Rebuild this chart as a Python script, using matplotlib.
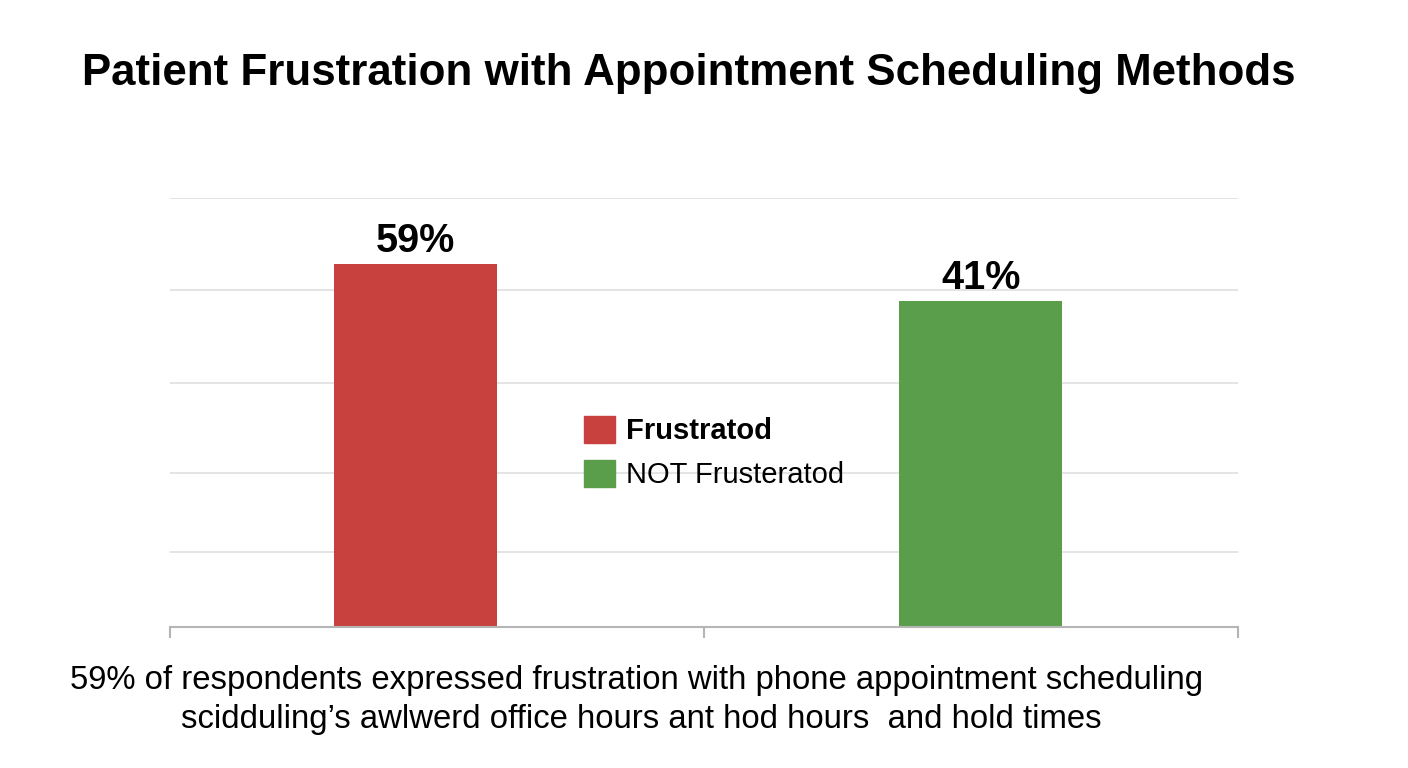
import matplotlib.pyplot as plt
import matplotlib.patches as patches
import numpy as np

# data
categories = ['Frustratod', 'NOT Frusteratod']
values = [59, 41]
colors = ['#C8413E', '#5A9E4B']

title = 'Patient Frustration with Appointment Scheduling Methods'
caption = ['59% of respondents expressed frustration with phone appointment scheduling',
           'scidduling\u2019s awlwerd office hours ant hod hours  and hold times']

plt.rcParams['font.family'] = ['Liberation Sans', 'DejaVu Sans']

fig = plt.figure(figsize=(14.08, 7.68), dpi=100)
ax = fig.add_axes([0.1207, 0.1836, 0.7585, 0.5586])

# y scale chosen so the bars sit where the reference puts them
y_lo, y_hi = -117.5, 91.1
x = np.arange(len(values))
ax.bar(x, np.array(values) - y_lo, bottom=y_lo, width=0.2885,
       color=colors, zorder=3)

for xi, v in zip(x, values):
    ax.annotate(f'{v}%', (xi, v), xytext=(0, 9), textcoords='offset points',
                ha='center', va='baseline', fontsize=28.5, fontweight='bold')

# gridlines
for f in [0.175, 0.359, 0.569, 0.786, 1.0]:
    ax.axhline(y_lo + f * (y_hi - y_lo), color='#e2e2e2', lw=1.3, zorder=1)

ax.set_ylim(y_lo, y_hi)
ax.set_xlim(-0.4345, 1.4549)
ax.set_xticks([-0.4345, 0.5097, 1.4549])
ax.set_xticklabels([])
ax.set_yticks([])
for s in ['top', 'right', 'left']:
    ax.spines[s].set_visible(False)
ax.spines['bottom'].set_color('#b5b5b5')
ax.spines['bottom'].set_linewidth(1.5)
ax.spines['bottom'].set_zorder(4)
ax.tick_params(axis='x', length=8, width=1.5, color='#b5b5b5', direction='out')

handles = [patches.Patch(color=c, label=l) for c, l in zip(colors, categories)]
leg = fig.legend(handles=handles, loc='center left', bbox_to_anchor=(0.4148, 0.411),
                 frameon=False, fontsize=21, handlelength=1.05, handleheight=1.05,
                 handletextpad=0.38, labelspacing=0.5, borderpad=0, borderaxespad=0)
leg.get_texts()[0].set_fontweight('bold')

fig.text(0.489, 1 - 85 / 768, title, ha='center', va='baseline',
         fontsize=31.6, fontweight='bold')
fig.text(0.4524, 1 - 689 / 768, caption[0], ha='center', va='baseline', fontsize=23.7)
fig.text(0.4553, 1 - 728 / 768, caption[1], ha='center', va='baseline', fontsize=23.7)

fig.savefig('out.png', dpi=100)
